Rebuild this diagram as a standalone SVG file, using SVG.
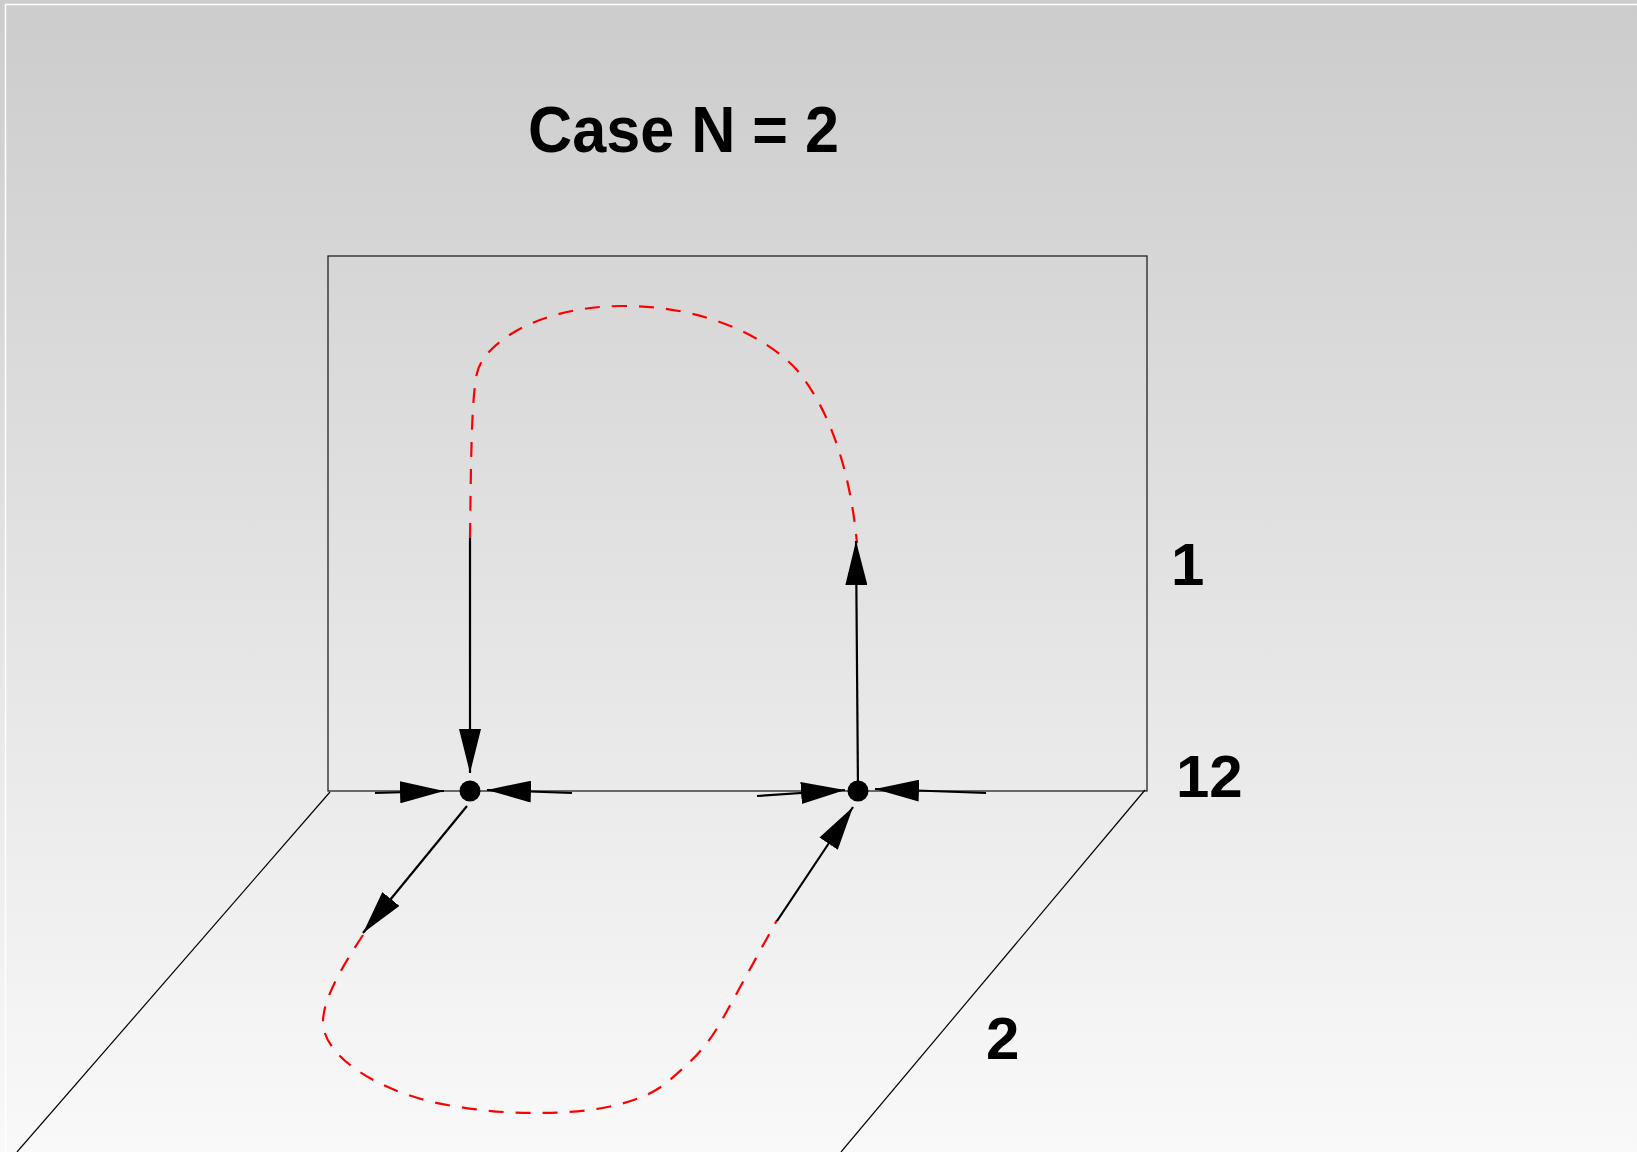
<svg xmlns="http://www.w3.org/2000/svg" width="1637" height="1152" viewBox="0 0 1637 1152">
<defs>
<linearGradient id="bg" x1="0" y1="0" x2="0" y2="1">
<stop offset="0" stop-color="#cccccc"/>
<stop offset="1" stop-color="#f9f9f9"/>
</linearGradient>
<marker id="ah" viewBox="0 -11 44 22" refX="44" refY="0" markerWidth="44" markerHeight="22" markerUnits="userSpaceOnUse" orient="auto">
<path d="M0,-11 L44,0 L0,11 z" fill="#000"/>
</marker>
</defs>
<style>
.lbl{font-family:"Liberation Sans",Arial,sans-serif;font-weight:bold;fill:#000}
.thin{stroke:#000;stroke-width:1.2;fill:none}
.arr{stroke:#000;stroke-width:2.2;fill:none;marker-end:url(#ah)}
.dash{stroke:#ff0000;stroke-width:2.2;fill:none;stroke-dasharray:15 12}
</style>
<rect x="0" y="0" width="1637" height="1152" fill="url(#bg)"/>
<path d="M5.5,1152 V4.5 H1637" stroke="#ffffff" stroke-width="1.5" fill="none"/>

<g id="title"><text class="lbl" x="528" y="152" font-size="64" textLength="311" lengthAdjust="spacingAndGlyphs">Case N = 2</text></g>

<g id="plane1">
<rect x="328" y="256" width="819" height="535" fill="none" stroke="#222" stroke-width="1.3"/>
</g>
<g id="plane2">
<line class="thin" x1="330" y1="792" x2="17" y2="1152"/>
<line class="thin" x1="1145" y1="790" x2="841" y2="1152"/>
</g>

<g id="labels">
<text class="lbl" x="1171" y="585" font-size="60">1</text>
<text class="lbl" x="1176" y="797" font-size="60">12</text>
<text class="lbl" x="986" y="1059" font-size="60">2</text>
</g>

<g id="node-left"><circle cx="470" cy="791" r="10.5" fill="#000"/></g>
<g id="node-right"><circle cx="858" cy="791" r="10.5" fill="#000"/></g>

<g id="connectors">
<path class="dash" d="M470,538 C471,470 471,400 477,373 C483,345 535,307 621,306 C700,305 765,335 797,370 C830,410 850,470 857,543"/>
<path class="dash" d="M363,935 C340,970 323,1000 323,1022 C323,1060 390,1098 460,1107 C490,1112 515,1113 537,1113 C600,1113 645,1102 670,1080 C690,1062 705,1050 722,1020 L777,920"/>
<line class="arr" x1="470" y1="538" x2="470" y2="773"/>
<line class="arr" x1="375" y1="793" x2="444" y2="791"/>
<line class="arr" x1="572" y1="793" x2="487" y2="790"/>
<line class="arr" x1="467" y1="806" x2="363" y2="933"/>
<line class="arr" x1="858" y1="791" x2="856" y2="541"/>
<line class="arr" x1="757" y1="796" x2="845" y2="790"/>
<line class="arr" x1="986" y1="793" x2="875" y2="789"/>
<line class="arr" x1="777" y1="921" x2="853" y2="807"/>
</g>
</svg>
